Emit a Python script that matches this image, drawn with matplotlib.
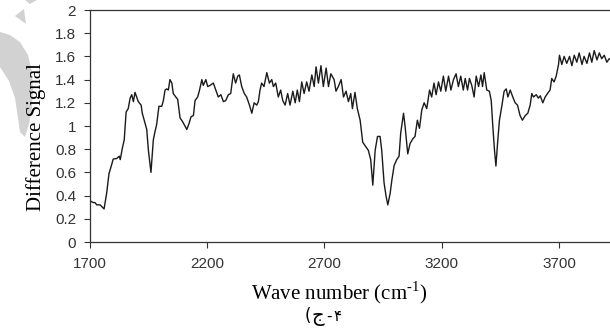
import matplotlib
matplotlib.use("Agg")
import matplotlib.pyplot as plt
from matplotlib.patches import Polygon

plt.rcParams['mathtext.fontset'] = 'custom'
plt.rcParams['mathtext.rm'] = 'Liberation Serif'

# 波数和差分信号
wave = [1700, 1704, 1714, 1721, 1729, 1743, 1760, 1771, 1781, 1790, 1799, 1814, 1825, 1829,
        1838, 1846, 1854, 1863, 1871, 1878, 1885, 1892, 1899, 1906, 1918, 1923, 1935, 1942,
        1949, 1960, 1970, 1977, 1984, 1994, 2006, 2013, 2020, 2027, 2034, 2041, 2049, 2055,
        2066, 2074, 2084, 2094, 2102, 2113, 2122, 2131, 2141, 2148, 2159, 2166, 2177, 2183,
        2194, 2202,
        2212, 2226, 2238, 2247, 2258, 2269, 2279, 2290, 2300, 2311, 2321, 2330, 2337, 2347,
        2358, 2368, 2380, 2390, 2400, 2411, 2418, 2425, 2432, 2442, 2454, 2465, 2475, 2482,
        2492, 2503, 2513, 2522, 2532, 2543, 2553, 2565, 2575, 2584, 2593, 2603, 2613, 2624,
        2634, 2646, 2656, 2664, 2674, 2685, 2695, 2707, 2717, 2727, 2741,
        2749, 2759, 2771, 2781, 2792, 2802, 2812, 2819, 2830, 2840, 2852, 2863, 2877, 2887,
        2897, 2906, 2916, 2926, 2937, 2944, 2954, 2963, 2970, 2980, 2987, 2997, 3008, 3018,
        3025, 3037, 3044, 3055, 3065, 3077, 3086, 3096, 3105, 3115, 3125, 3136, 3148, 3157,
        3167, 3176, 3186, 3196, 3207, 3217, 3229, 3239, 3250, 3261, 3271, 3281, 3292,
        3300, 3310, 3318, 3328, 3338, 3347, 3357, 3367, 3374, 3381, 3392, 3403, 3411, 3418,
        3425, 3431, 3438, 3446, 3456, 3466, 3475, 3482, 3492, 3503, 3513, 3523, 3534, 3544,
        3556, 3567, 3577, 3584, 3591, 3603, 3612, 3620, 3631, 3641, 3651, 3662, 3669, 3679,
        3688, 3698, 3702, 3712, 3722, 3733, 3745, 3755, 3765, 3776, 3786, 3798, 3807, 3819,
        3830, 3840, 3850, 3862, 3872, 3882, 3893, 3904, 3914, 3925]
signal = [0.36, 0.35, 0.34, 0.34, 0.32, 0.32, 0.285, 0.42, 0.59, 0.65, 0.715, 0.72, 0.74, 0.71,
          0.81, 0.88, 1.12, 1.15, 1.24, 1.27, 1.21, 1.29, 1.25, 1.21, 1.18, 1.11, 1.02, 0.97,
          0.79, 0.60, 0.88, 0.95, 1.01, 1.17, 1.17, 1.22, 1.31, 1.32, 1.31, 1.40, 1.37, 1.28,
          1.25, 1.23, 1.07, 1.04, 1.01, 0.97, 1.02, 1.08, 1.09, 1.22, 1.25, 1.30, 1.40, 1.35,
          1.40, 1.34,
          1.35, 1.37, 1.30, 1.25, 1.27, 1.21, 1.22, 1.27, 1.28, 1.45, 1.37, 1.43, 1.44, 1.34,
          1.28, 1.25, 1.18, 1.11, 1.20, 1.18, 1.21, 1.31, 1.37, 1.34, 1.46, 1.37, 1.40, 1.34,
          1.37, 1.25, 1.31, 1.22, 1.18, 1.28, 1.18, 1.30, 1.20, 1.31, 1.21, 1.38, 1.28, 1.38,
          1.30, 1.44, 1.34, 1.51, 1.37, 1.52, 1.34, 1.50, 1.34, 1.45, 1.40,
          1.30, 1.34, 1.40, 1.25, 1.30, 1.21, 1.28, 1.15, 1.29, 1.15, 1.05, 0.86, 0.82, 0.79,
          0.71, 0.49, 0.79, 0.91, 0.91, 0.79, 0.51, 0.39, 0.32, 0.42, 0.53, 0.66, 0.71, 0.74,
          0.94, 1.11, 0.99, 0.76, 0.85, 0.89, 0.91, 1.05, 0.98, 1.14, 1.20, 1.15, 1.31, 1.25,
          1.37, 1.27, 1.38, 1.30, 1.43, 1.30, 1.43, 1.31, 1.40, 1.45, 1.34, 1.43, 1.31,
          1.41, 1.31, 1.41, 1.35, 1.25, 1.43, 1.34, 1.44, 1.34, 1.46, 1.31, 1.30, 1.22, 0.99,
          0.79, 0.655, 0.85, 1.05, 1.17, 1.30, 1.32, 1.25, 1.31, 1.25, 1.20, 1.18, 1.09, 1.05,
          1.09, 1.11, 1.18, 1.28, 1.25, 1.27, 1.24, 1.26, 1.20, 1.25, 1.28, 1.31, 1.41, 1.38,
          1.43, 1.53, 1.61, 1.53, 1.60, 1.54, 1.60, 1.52, 1.61, 1.55, 1.63, 1.53, 1.60, 1.54,
          1.63, 1.55, 1.65, 1.57, 1.63, 1.58, 1.61, 1.55, 1.58, 1.57]

xticks = [1700, 2200, 2700, 3200, 3700]
yticks = [0, 0.2, 0.4, 0.6, 0.8, 1, 1.2, 1.4, 1.6, 1.8, 2]
ytick_labels = ['0', '0.2', '0.4', '0.6', '0.8', '1', '1.2', '1.4', '1.6', '1.8', '2']
caption = ['(', 'ج', '-', '۴']  # 图注，按从左到右的显示顺序

W, H = 610, 335
fig = plt.figure(figsize=(W / 100, H / 100), dpi=100)

# 背景水印（浅灰色图形）
def px(pts):
    return [(x / W, 1 - y / H) for x, y in pts]

wm = '#d2d2d2'
fig.patches.append(Polygon(px([(0, 32), (10, 35), (20, 42), (28, 55), (32, 72), (33, 90), (32, 108),
                               (29, 124), (25, 137), (20, 132), (18, 118), (15, 98),
                               (9, 81), (0, 67)]),
                           closed=True, transform=fig.transFigure, color=wm, lw=0, zorder=0))
fig.patches.append(Polygon(px([(15, 16), (24, 9), (26, 24)]),
                           closed=True, transform=fig.transFigure, color=wm, lw=0, zorder=0))
fig.patches.append(Polygon(px([(25, 0), (37, 0), (30, 4)]),
                           closed=True, transform=fig.transFigure, color=wm, lw=0, zorder=0))

ax = fig.add_axes([90 / W, 1 - 242 / H, 1 - 90 / W + 0.02, (242 - 10) / H])
ax.patch.set_alpha(0)
ax.plot(wave, signal, color='#1a1a1a', linewidth=1.0)

ax.set_xlim(1700, 1700 + (W + 12 - 90) * 4.266)
ax.set_ylim(0, 2)
ax.set_xticks(xticks)
ax.set_yticks(yticks)
ax.set_xticklabels([str(t) for t in xticks], family='Liberation Sans', fontsize=11, color='#333333')
ax.set_yticklabels(ytick_labels, family='Liberation Sans', fontsize=11, color='#333333')
ax.tick_params(direction='out', length=4, width=0.8, color='#333333')
ax.tick_params(axis='x', pad=7)
ax.tick_params(axis='y', pad=6)
for s in ['left', 'bottom', 'top', 'right']:
    ax.spines[s].set_color('#333333')
    ax.spines[s].set_linewidth(0.9)

fig.text(36 / W, 1 - 137 / H, 'Difference Signal', family='Liberation Serif', fontsize=15,
         rotation=90, ha='center', va='center')
fig.text(339 / W, 1 - 293 / H, 'Wave number (cm$^{\\text{-1}}$)', family='Liberation Serif',
         fontsize=15, ha='center', va='center')

# 图注逐个字符放置，避免文字方向问题
cap_x = [308, 318, 329, 337]
cap_size = [12, 14, 11, 11]
for ch, cx, fs in zip(caption, cap_x, cap_size):
    fig.text(cx / W, 1 - 321 / H, ch, family=['DejaVu Sans'], fontsize=fs,
             ha='center', va='baseline')

fig.savefig('out.png', dpi=100)
